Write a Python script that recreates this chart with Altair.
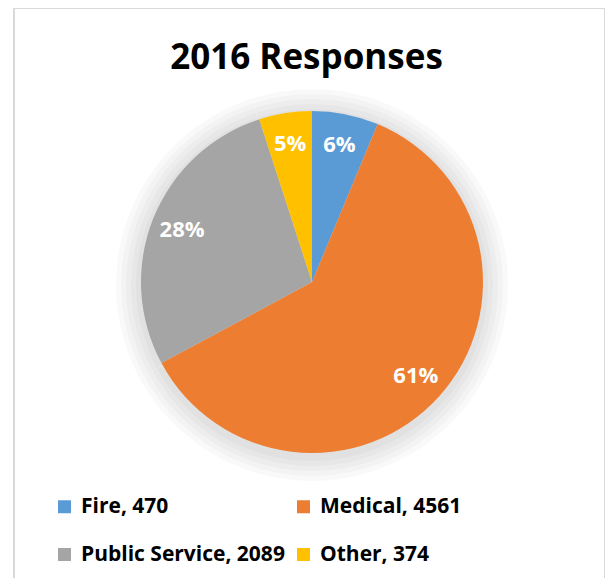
import altair as alt
import pandas as pd

# ---- data ----
categories = ["Fire", "Medical", "Public Service", "Other"]
counts = [470, 4561, 2089, 374]
colors = ["#5B9BD5", "#ED7D31", "#A5A5A5", "#FFC000"]
title_text = "2016 Responses"

labels = [f"{c}, {v}" for c, v in zip(categories, counts)]
df = pd.DataFrame({"category": categories, "count": counts,
                   "idx": list(range(len(categories))), "label": labels})

# legend fills column by column: arrange so rows read Fire, Medical / Public Service, Other
legend_order = [labels[0], labels[2], labels[1], labels[3]]
legend_colors = [colors[0], colors[2], colors[1], colors[3]]

FONT = "Open Sans"
W, H = 597, 570
CX, CY = 304, 274      # pie centre inside the view
R = 171

base = alt.Chart(df).transform_joinaggregate(
    total="sum(count)"
).transform_calculate(
    pct="round(datum.count / datum.total * 100) + '%'"
)

theta = alt.Theta("count:Q", stack=True)
order = alt.Order("idx:Q", sort="ascending")

# soft shadow behind the pie
shadows = [
    base.mark_arc(color="#000000", opacity=0.022).encode(
        theta=theta, order=order,
        x=alt.value(CX), y=alt.value(CY + 3), radius=alt.value(r))
    for r in (176, 181, 186, 191, 196)
]

pie = base.mark_arc(strokeWidth=0).encode(
    theta=theta,
    order=order,
    x=alt.value(CX), y=alt.value(CY), radius=alt.value(R),
    color=alt.Color(
        "label:N",
        sort=legend_order,
        scale=alt.Scale(domain=legend_order, range=legend_colors),
        legend=alt.Legend(
            title=None, orient="none", legendX=46, legendY=488,
            columns=2, symbolType="square", symbolSize=169,
            symbolStrokeWidth=0, labelFont=FONT, labelFontSize=21,
            labelFontWeight="bold", labelColor="#000000", labelOffset=6,
            labelLimit=400, rowPadding=26, columnPadding=8,
        ),
    ),
)

text = base.mark_text(
    radius=140, font=FONT, fontSize=22, fontWeight="bold", color="white"
).encode(
    theta=theta, order=order,
    x=alt.value(CX), y=alt.value(CY),
    text="pct:N",
)

frame_left = alt.Chart(df).mark_rule(color="#d9d9d9", strokeWidth=2).encode(
    x=alt.value(6), y=alt.value(0), y2=alt.value(H))
frame_right = alt.Chart(df).mark_rule(color="#d9d9d9", strokeWidth=2).encode(
    x=alt.value(597), y=alt.value(0), y2=alt.value(H))
frame_top = alt.Chart(df).mark_rule(color="#d9d9d9", strokeWidth=2).encode(
    x=alt.value(6), x2=alt.value(597), y=alt.value(0))

chart = alt.layer(
    *shadows, pie, text, frame_left, frame_right, frame_top
).properties(
    width=W, height=H,
    autosize=alt.AutoSizeParams(type="none"),
    padding=0,
    title=alt.TitleParams(
        title_text, font=FONT, fontSize=35, fontWeight="bold",
        color="#000000", anchor="middle", offset=-69,
    ),
).configure_view(stroke=None)

chart.save("out.html", embed_options={"renderer": "svg", "actions": False})
